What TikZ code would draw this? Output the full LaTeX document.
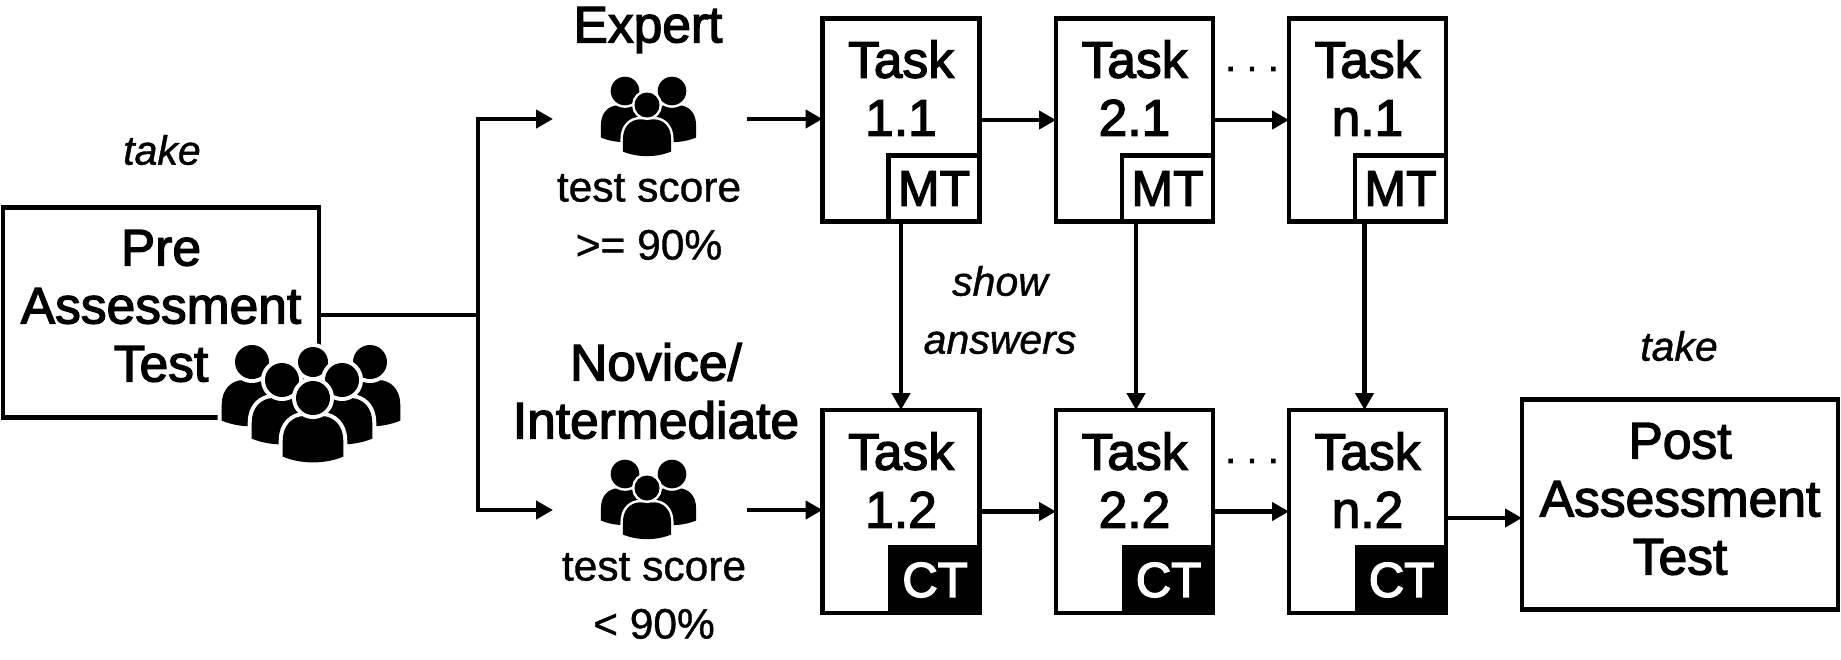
\documentclass[tikz,border=0pt]{standalone}
\usepackage{fontspec}
\setmainfont{Liberation Sans}
\newcommand\heavy{\special{pdf:literal direct 2 Tr 1.3 w}}
\newcommand\heavywhite{\special{pdf:literal direct 1 1 1 RG 2 Tr 1.5 w}}
\newcommand\lighter{\special{pdf:literal direct 2 Tr 0.4 w}}
\usetikzlibrary{arrows.meta,calc}
\newcommand\crowdperson[5]{%
  \begin{scope}[shift={(#1,#2)},x=#4pt,y=-#4pt]
    \path[fill=black,preaction={draw=white,line width=#5pt}]
      (-1.78,3.45) -- (-1.78,2.5) .. controls (-1.78,1.6) and (-1.2,1.06) .. (-0.5,1.06)
      -- (0.5,1.06) .. controls (1.2,1.06) and (1.78,1.6) .. (1.78,2.5) -- (1.78,3.45)
      .. controls (0.7,3.9) and (-0.7,3.9) .. (-1.78,3.45) -- cycle;
    \path[fill=black,preaction={draw=white,line width=#5pt}] (0,0) circle[radius=#3pt];
  \end{scope}}
\newcommand\trioicon[2]{%
  \crowdperson{#1-22}{#2-14}{14.3}{13.5}{5}%
  \crowdperson{#1+25}{#2-14}{14.3}{13.5}{5}%
  \crowdperson{#1}{#2}{12.5}{13.5}{5}}
\tikzset{
  x=1pt,y=-1pt,
  flow/.style={line width=4.3pt,draw=black},
  arrowed/.style={flow,-{Triangle[length=17pt,width=18pt]}},
  bigbox/.style={draw=black,line width=4.4pt,minimum width=316pt,minimum height=210pt,inner sep=0pt,outer sep=0pt},
  taskbox/.style={draw=black,line width=4.4pt,minimum width=157pt,minimum height=203pt,inner sep=0pt,outer sep=0pt},
  mtbox/.style={draw=black,fill=white,line width=4.4pt,minimum width=91pt,minimum height=66pt,inner sep=0pt,outer sep=0pt,anchor=south east,font=\heavy\fontsize{50}{50}\selectfont},
  ctbox/.style={draw=black,fill=black,text=white,line width=4.4pt,minimum width=89pt,minimum height=66pt,inner sep=0pt,outer sep=0pt,anchor=south east,font=\fontsize{49}{49}\selectfont},
  big/.style={align=center,inner sep=0pt,font=\heavy\fontsize{51.5}{58}\selectfont},
  mid/.style={align=center,inner sep=0pt,font=\lighter\fontsize{42.5}{58}\selectfont},
  note/.style={align=center,inner sep=0pt,font=\lighter\itshape\fontsize{41}{58}\selectfont},
  dotsnode/.style={inner sep=0pt,font=\heavy\fontsize{33}{33}\selectfont},
}
\begin{document}
\begin{tikzpicture}
\useasboundingbox (0,0) rectangle (1841,659);
% boxes
\node[bigbox] (pre) at (161,312.5) {};
\node[big] (pretext) at (161,306) {Pre\\Assessment\\Test};
\node[bigbox] (post) at (1680,504.5) {};
\node[big] (posttext) at (1680,499) {Post\\Assessment\\Test};
\foreach \n/\x/\t in {1/901/1,2/1134.5/2,3/1367.5/n}{
  \node[taskbox] (a\n) at (\x,120) {};
  \node[big] (alab\n) at (\x,88) {Task\\\t.1};
  \node[mtbox] (m\n) at (a\n.south east) {MT};
  \node[taskbox] (b\n) at (\x,511.5) {};
  \node[big] (blab\n) at (\x,480) {Task\\\t.2};
  \node[ctbox] (c\n) at (b\n.south east) {\heavywhite CT};
}
% group labels
\node[big] (expert) at (648,30) {Expert};
\node[big] (novice) at (656,391) {Novice/\\Intermediate};
\node[mid] (s1) at (649,217) {test score\\>= 90\%};
\node[mid] (s2) at (654,596) {test score\\< 90\%};
\node[note] (take1) at (162,150) {take};
\node[note] (take2) at (1679,346) {take};
\node[note] (show) at (1000,310) {show\\answers};
\node[dotsnode] (d1) at (1252,69) {. . .};
\node[dotsnode] (d2) at (1252,461) {. . .};
% free ends
\coordinate (j) at (478,315);
\coordinate (jt) at (478,119);
\coordinate (jb) at (478,510);
\coordinate (et) at (553,119);
\coordinate (eb) at (553,510);
\coordinate (st) at (747,119);
\coordinate (sb) at (747,510);
% connectors
\draw[flow] (pre.east |- j) -- (j);
\draw[flow,line cap=rect] (jt) -- (jb);
\draw[arrowed] (jt) -- (et);
\draw[arrowed] (jb) -- (eb);
\draw[arrowed] (st) -- (st -| a1.west);
\draw[arrowed] (sb) -- (sb -| b1.west);
\draw[arrowed] (a1.east) -- (a2.west);
\draw[arrowed] (a2.east) -- (a3.west);
\draw[arrowed] (b1.east) -- (b2.west);
\draw[arrowed] (b2.east) -- (b3.west);
\draw[arrowed] (a1.south) -- (b1.north);
\draw[arrowed] ([xshift=1.5pt]a2.south) -- ([xshift=1.5pt]b2.north);
\draw[arrowed] ([xshift=-3pt]a3.south) -- ([xshift=-3pt]b3.north);
\coordinate (pj) at (1448,518);
\draw[arrowed] (pj) -- (pj -| post.west);
% icons
\trioicon{647}{105}
\trioicon{647}{488}
\crowdperson{252}{362}{17}{17}{8}
\crowdperson{370}{362}{17}{17}{8}
\crowdperson{313}{362}{15}{15}{8}
\crowdperson{282}{380}{17}{17}{8}
\crowdperson{342}{380}{17}{17}{8}
\crowdperson{313}{398}{17}{17}{8}
\end{tikzpicture}
\end{document}
